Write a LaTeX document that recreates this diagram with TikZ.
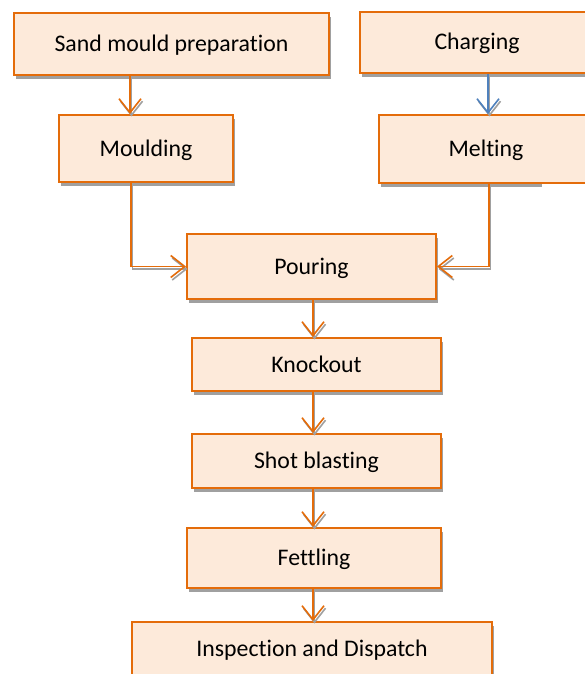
\documentclass[tikz,border=0pt]{standalone}
\usepackage{fontspec}
\setmainfont{Carlito}[Ligatures=NoCommon]
\usetikzlibrary{arrows.meta,shadows,calc}
\definecolor{boxorange}{RGB}{228,108,10}
\definecolor{boxfill}{RGB}{253,234,218}
\definecolor{shadowgray}{RGB}{160,160,160}
\definecolor{linkblue}{RGB}{79,129,189}
\tikzset{
  stepbox/.style={draw=boxorange, line width=2pt, fill=boxfill, inner sep=0pt,
    text height=15pt, text depth=0pt, font=\fontsize{23.8}{28}\selectfont},
  shadowed/.style={drop shadow={shadow xshift=1.5pt, shadow yshift=-4pt, fill=shadowgray, opacity=1}},
  link/.style={line width=1.6pt, -{Straight Barb[length=14pt,width=22pt]}},
}
\newcommand\drawlinks[2]{%
  \draw[link,#1] (c1 |- sand.south) -- (c1);
  \draw[link,#2] (c2 |- charge.south) -- (c2);
  \draw[link,#1] (c3) |- (pour.west);
  \draw[link,#1] (c4) |- (pour.east);
  \draw[link,#1] (col |- pour.south) -- (col |- knock.north);
  \draw[link,#1] (col |- knock.south) -- (col |- shot.north);
  \draw[link,#1] (col |- shot.south) -- (col |- fett.north);
  \draw[link,#1] (col |- fett.south) -- (col |- insp.north);
}
\begin{document}
\begin{tikzpicture}[x=1pt,y=-1pt]
\useasboundingbox (0,0) rectangle (585,674);
\clip (0,0) rectangle (585,674);
\fill[white] (0,0) rectangle (585,674);
% boxes
\node[stepbox,shadowed,minimum width=315pt,minimum height=62pt] (sand) at (171.5,44) {Sand mould preparation};
\node[stepbox,shadowed,minimum width=234pt,minimum height=61pt] (charge) at (477,42.5) {Charging};
\node[stepbox,shadowed,minimum width=174pt,minimum height=67pt] (mould) at (146,148.5) {Moulding};
\fill[shadowgray] (380.5,119) rectangle (542,187);
\node[stepbox,minimum width=214pt,minimum height=68pt] (melt) at (486,149) {Melting};
\node[stepbox,shadowed,minimum width=249pt,minimum height=65pt] (pour) at (311.5,266.5) {Pouring};
\node[stepbox,shadowed,minimum width=249pt,minimum height=53pt] (knock) at (316.5,364.5) {Knockout};
\node[stepbox,shadowed,minimum width=249pt,minimum height=54pt] (shot) at (316.5,461) {Shot blasting};
\node[stepbox,shadowed,minimum width=254pt,minimum height=60pt] (fett) at (314,558) {Fettling};
\node[stepbox,shadowed,minimum width=360pt,minimum height=54pt] (insp) at (312,649) {Inspection and Dispatch};
% connector anchors
\coordinate (c1) at ($(mould.north)+(-16,0)$);
\coordinate (c2) at ($(melt.north)+(2,0)$);
\coordinate (c3) at ($(mould.south)+(-15,0)$);
\coordinate (c4) at ($(melt.south)+(3,0)$);
\coordinate (col) at (313,0);
% connector shadows
\begin{scope}[transform canvas={shift={(1.5pt,-2.5pt)}}]
  \drawlinks{shadowgray}{shadowgray}
\end{scope}
\drawlinks{boxorange}{linkblue}
\end{tikzpicture}
\end{document}
